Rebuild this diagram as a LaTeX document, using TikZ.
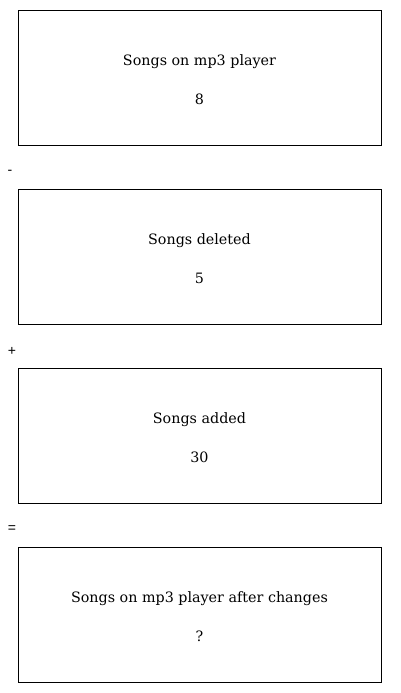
\documentclass[tikz,border=0pt]{standalone}
\usepackage{fontspec}
\setmainfont{DejaVu Serif}
\newfontfamily\opfont{Liberation Sans}
\begin{document}
\begin{tikzpicture}[x=1pt,y=-1pt,
  qbox/.style={draw=black,line width=0.8pt,minimum width=363pt,minimum height=135pt,inner sep=0pt},
  lbl/.style={font=\fontsize{14.3}{17}\selectfont,inner sep=0pt},
  opr/.style={font=\opfont\fontsize{14}{16}\selectfont,inner sep=0pt}]
\useasboundingbox (0,0) rectangle (400,693);
\node[qbox] (b1) at (199.5,77.5) {};
\node[lbl] (t1) at (199.5,61.5) {Songs on mp3 player};
\node[lbl] (n1) at (199.5,99) {8};
\node[opr] (o1) at (10,172.5) {-};
\node[qbox] (b2) at (199.5,256.5) {};
\node[lbl] (t2) at (199.5,240.5) {Songs deleted};
\node[lbl] (n2) at (199.5,278) {5};
\node[opr] (o2) at (12,351) {+};
\node[qbox] (b3) at (199.5,435.5) {};
\node[lbl] (t3) at (199.5,419.5) {Songs added};
\node[lbl] (n3) at (199.5,457) {30};
\node[opr] (o3) at (12,529.5) {=};
\node[qbox] (b4) at (199.5,614.5) {};
\node[lbl] (t4) at (199.5,598.5) {Songs on mp3 player after changes};
\node[lbl] (n4) at (199.5,636) {?};
\end{tikzpicture}
\end{document}
